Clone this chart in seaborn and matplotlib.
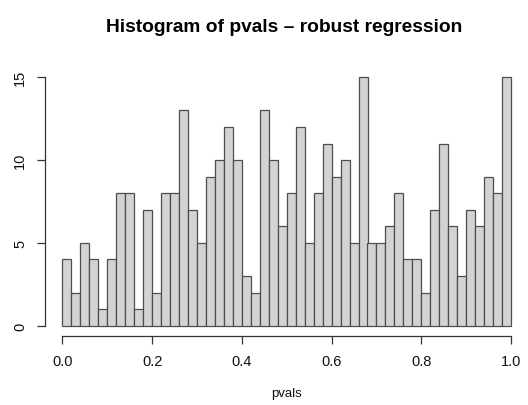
import numpy as np
import pandas as pd
import matplotlib
matplotlib.use("Agg")
import matplotlib.pyplot as plt
import seaborn as sns

# Histogram counts for p-values in 50 bins of width 0.02 on [0, 1]
bin_edges = [round(i * 0.02, 2) for i in range(51)]
counts = [4, 2, 5, 4, 1, 4, 8, 8, 1, 7, 2, 8, 8, 13, 7, 5,
          9, 10, 12, 10, 3, 2, 13, 10, 6, 8, 12, 5, 8, 11, 9, 10,
          5, 15, 5, 5, 6, 8, 4, 4, 2, 7, 11, 6, 3, 7, 6, 9, 8, 15]
x_ticks = [0.0, 0.2, 0.4, 0.6, 0.8, 1.0]
x_tick_labels = ["0.0", "0.2", "0.4", "0.6", "0.8", "1.0"]
y_ticks = [0, 5, 10, 15]

sns.set_style("ticks")
plt.rcParams["font.family"] = ["Liberation Sans", "DejaVu Sans"]
plt.rcParams["text.color"] = "black"

edges = np.array(bin_edges)
df = pd.DataFrame({
    "pvals": (edges[:-1] + edges[1:]) / 2,
    "count": counts,
})

W, H = 528, 406
fig = plt.figure(figsize=(W / 100, H / 100), dpi=100)
ax = fig.add_axes([44.5 / W, (H - 336.6) / H, (529 - 44.5) / W, (336.6 - 68.4) / H])

sns.histplot(data=df, x="pvals", weights="count", bins=bin_edges, ax=ax,
             color="#d3d3d3", edgecolor="#4d4d4d", linewidth=0.9, alpha=1.0)

ax.set_xlim(-0.04, 1.04)
ax.set_ylim(-0.6, 15.6)

for side in ["top", "right"]:
    ax.spines[side].set_visible(False)
ax.spines["left"].set_bounds(0, 15)
ax.spines["bottom"].set_bounds(0, 1)
for side in ["left", "bottom"]:
    ax.spines[side].set_color("#333333")
    ax.spines[side].set_linewidth(0.9)

ax.set_xticks(x_ticks)
ax.set_xticklabels(x_tick_labels)
ax.set_yticks(y_ticks)
ax.set_yticklabels([str(v) for v in y_ticks], rotation=90, va="center")
ax.tick_params(axis="both", direction="out", length=5.6, width=0.9,
               bottom=True, left=True,
               color="#333333", labelsize=10.5, labelcolor="#111111")
ax.tick_params(axis="x", pad=7.5)
ax.tick_params(axis="y", pad=7)

ax.set_xlabel("pvals", fontsize=9.5, labelpad=14, color="#111111")
ax.set_ylabel("")
ax.grid(False)

fig.text(284 / W, 1 - 27 / H, "Histogram of pvals \u2013 robust regression",
         ha="center", va="center", fontsize=13.8, fontweight="bold",
         color="black")

fig.savefig("out.png", dpi=100)
